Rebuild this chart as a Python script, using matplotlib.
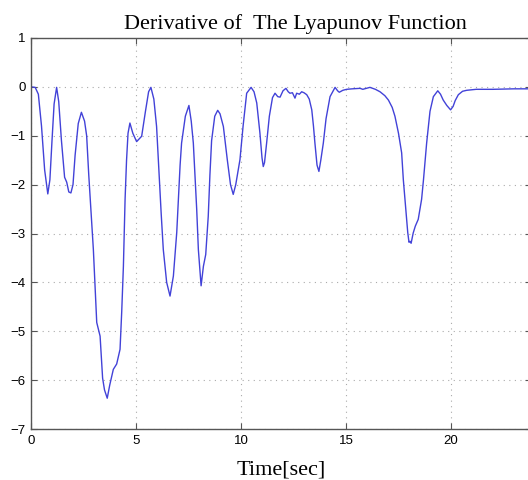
import matplotlib
matplotlib.use("Agg")
import matplotlib.pyplot as plt

time_sec = [0.0, 0.2, 0.35, 0.5, 0.65, 0.8, 0.9, 1.0, 1.1, 1.22, 1.32, 1.45, 1.6, 1.7, 1.8, 1.9, 2.0, 2.1,
            2.25, 2.4, 2.55, 2.65, 2.75, 2.85, 2.97, 3.05, 3.13, 3.29, 3.41, 3.5, 3.63, 3.75, 3.92, 4.08,
            4.24, 4.32, 4.4, 4.48, 4.55, 4.62, 4.71, 4.85, 5.03, 5.27, 5.45, 5.6, 5.71, 5.85, 5.98, 6.1,
            6.2, 6.3, 6.46, 6.62, 6.78, 6.94, 7.02, 7.1, 7.17, 7.35, 7.52, 7.63, 7.73, 7.82, 7.89, 7.97,
            8.1, 8.21, 8.32, 8.44, 8.52, 8.6, 8.75, 8.89, 9.0, 9.16, 9.35, 9.5, 9.63, 9.75, 9.95, 10.1,
            10.27, 10.48, 10.62, 10.75, 10.9, 11.0, 11.06, 11.12, 11.22, 11.35, 11.5, 11.62, 11.75, 11.86,
            12.0, 12.14, 12.25, 12.33, 12.45, 12.57, 12.65, 12.78, 12.89, 13.0, 13.13, 13.25, 13.37, 13.45,
            13.52, 13.62, 13.71, 13.8, 13.92, 14.05, 14.24, 14.48, 14.6, 14.68, 14.85, 15.03, 15.3, 15.67,
            15.8, 16.14, 16.4, 16.62, 16.85, 17.02, 17.2, 17.33, 17.5, 17.65, 17.73, 17.86, 17.94, 18.0,
            18.05, 18.1, 18.2, 18.3, 18.44, 18.6, 18.69, 18.84, 19.0, 19.16, 19.37, 19.5, 19.63, 19.8,
            19.98, 20.1, 20.2, 20.35, 20.55, 20.75, 21.2, 22.0, 23.0, 24.0]
dV = [0.0, -0.01, -0.15, -0.8, -1.7, -2.19, -1.9, -1.1, -0.35, -0.01, -0.3, -1.1, -1.85, -1.95, -2.15,
      -2.17, -2.0, -1.4, -0.75, -0.52, -0.7, -1.0, -1.8, -2.5, -3.33, -4.07, -4.82, -5.1, -5.96, -6.2,
      -6.37, -6.1, -5.78, -5.67, -5.37, -4.6, -3.67, -2.3, -1.5, -0.95, -0.74, -0.95, -1.12, -1.01,
      -0.5, -0.1, -0.01, -0.25, -0.81, -1.8, -2.6, -3.33, -4.0, -4.28, -3.87, -2.98, -2.3, -1.6, -1.15,
      -0.6, -0.38, -0.7, -1.15, -1.9, -2.5, -3.33, -4.07, -3.67, -3.43, -2.65, -1.8, -1.1, -0.6, -0.48,
      -0.55, -0.81, -1.5, -2.0, -2.2, -2.0, -1.49, -0.8, -0.13, -0.01, -0.1, -0.33, -0.94, -1.45, -1.63,
      -1.55, -1.15, -0.6, -0.22, -0.13, -0.2, -0.21, -0.08, -0.03, -0.1, -0.13, -0.12, -0.23, -0.13,
      -0.15, -0.1, -0.12, -0.16, -0.25, -0.47, -0.8, -1.15, -1.6, -1.73, -1.5, -1.15, -0.65, -0.2,
      -0.01, -0.08, -0.11, -0.07, -0.05, -0.04, -0.03, -0.05, -0.01, -0.05, -0.1, -0.18, -0.27, -0.42,
      -0.6, -0.95, -1.35, -1.9, -2.57, -2.98, -3.18, -3.16, -3.2, -2.99, -2.85, -2.71, -2.3, -1.9,
      -1.15, -0.5, -0.2, -0.08, -0.15, -0.27, -0.38, -0.47, -0.4, -0.28, -0.16, -0.09, -0.07, -0.05,
      -0.05, -0.04, -0.04]

x_ticks = [0, 5, 10, 15, 20]
y_ticks = [-7, -6, -5, -4, -3, -2, -1, 0, 1]

W, H = 528, 480
fig = plt.figure(figsize=(W / 100, H / 100), dpi=100)
left, right, top, bottom = 31, 531, 38, 429
ax = fig.add_axes([left / W, (H - bottom) / H, (right - left) / W, (bottom - top) / H])

ax.plot(time_sec, dV, color="#4242d8", lw=1.0)

ax.set_xlim(0, (right - left) / 21.0)
ax.set_ylim(-7, 1)
ax.set_xticks(x_ticks)
ax.set_yticks(y_ticks)
ax.set_xticklabels([str(v) for v in x_ticks])
ax.set_yticklabels([("\u2212" + str(-v)) if v < 0 else str(v) for v in y_ticks])

ax.grid(True, linestyle=(0, (1, 4)), color="#aaaaaa", linewidth=0.8)
ax.tick_params(direction="in", length=4, width=0.8, top=True, right=True, colors="#555555",
               labelcolor="black", labelsize=9.5, pad=4)
for lbl in ax.get_xticklabels() + ax.get_yticklabels():
    lbl.set_family("Liberation Sans")
for s in ax.spines.values():
    s.set_color("#555555")
    s.set_linewidth(1.0)

axh = bottom - top
ax.set_title("Derivative of  The Lyapunov Function", family="Liberation Serif", fontsize=16,
             x=(295 - left) / (right - left), y=1 + 9 / axh, pad=0, va="baseline")
ax.set_xlabel("Time[sec]", family="Liberation Serif", fontsize=16, va="baseline")
ax.xaxis.set_label_coords((281 - left) / (right - left), -46 / axh)

fig.savefig("out.png", dpi=100)
